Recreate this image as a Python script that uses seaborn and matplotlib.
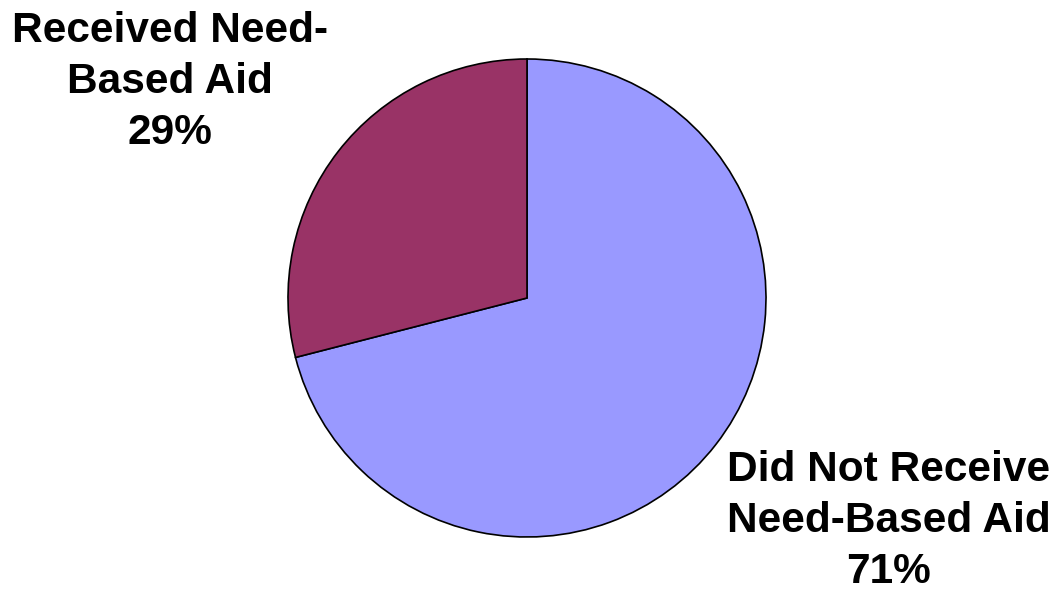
import matplotlib
matplotlib.use("Agg")
import matplotlib.pyplot as plt
import seaborn as sns

# Share of students by need-based aid status
labels = ["Did Not Receive\nNeed-Based Aid", "Received Need-\nBased Aid"]
shares = [71, 29]
colors = ["#9999FF", "#993366"]

sns.set_style("white")
plt.rcParams['font.family'] = ['Liberation Sans', 'DejaVu Sans']

fig = plt.figure(figsize=(10.57, 5.93), dpi=100)
ax = fig.add_axes([0, 0, 1, 1])

# Pie drawn in pixel-like data coordinates so it sits where the original does
wedges, _ = ax.pie(
    shares,
    colors=colors,
    startangle=90,
    counterclock=False,
    center=(527, 295),
    radius=239,
    wedgeprops=dict(edgecolor="black", linewidth=1.2),
    frame=True,
)

ax.set_xlim(0, 1057)
ax.set_ylim(0, 593)
ax.set_aspect("equal")
ax.axis("off")

# Outside labels
label_pos = [(889, 72), (170, 511)]
for lab, val, (x, y) in zip(labels, shares, label_pos):
    ax.text(x, y, f"{lab}\n{val}%", ha="center", va="center", color="black",
            fontsize=30.5, fontweight="bold", linespacing=1.36)

fig.savefig("out.png", dpi=100)
